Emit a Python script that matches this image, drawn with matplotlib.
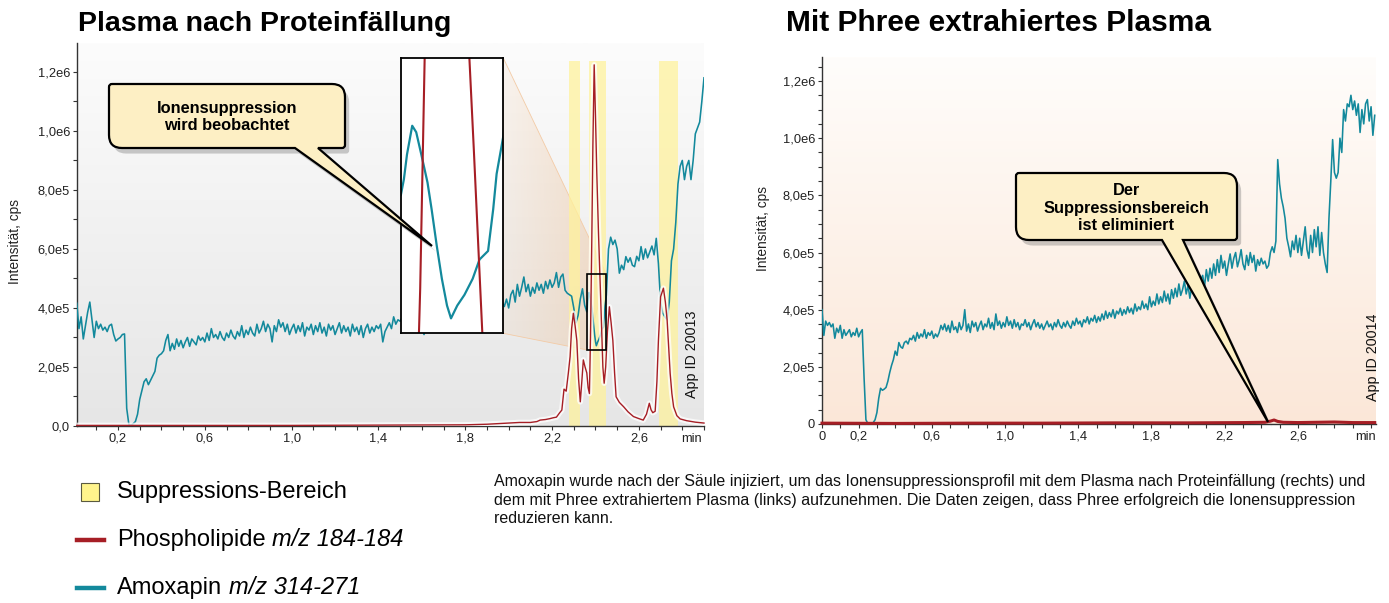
"""
Post-Column-Infusion von Amoxapin: Ionensuppression im Plasma nach
Proteinfällung vs. mit Phree extrahiertem Plasma.
Werte vom Originalbild abgelesen (Intensität in 1000 cps, Zeit in min).
"""
import numpy as np
import matplotlib
matplotlib.use("Agg")
import matplotlib.colors as mcolors
import matplotlib.patheffects as pe
import matplotlib.pyplot as plt
from matplotlib import font_manager
from matplotlib.lines import Line2D
from matplotlib.patches import PathPatch, Polygon, Rectangle
from matplotlib.path import Path
from matplotlib.ticker import FixedLocator, MultipleLocator

plt.rcParams["font.family"] = ["Liberation Sans", "DejaVu Sans"]

# --- Amoxapin m/z 314-271, Plasma nach Proteinfällung -----------------------
# 0,01 ... 2,35 min, Raster 0,01 min
amox_ppt_a = [
    416, 330, 370, 295, 340, 385, 420, 360, 300, 355,
    330, 345, 325, 335, 320, 340, 345, 310, 288, 295,
    300, 310, 312, 60, 5, 2, 8, 15, 40, 90,
    120, 150, 160, 140, 155, 170, 185, 230, 240, 245,
    255, 290, 310, 255, 280, 260, 295, 270, 290, 265,
    285, 300, 270, 295, 285, 275, 305, 290, 300, 285,
    315, 290, 330, 300, 310, 295, 320, 300, 290, 315,
    300, 325, 305, 295, 320, 305, 340, 300, 325, 310,
    335, 315, 305, 345, 315, 330, 355, 320, 345, 330,
    285, 340, 320, 360, 335, 350, 320, 345, 310, 330,
    345, 315, 340, 320, 350, 305, 335, 325, 345, 310,
    340, 320, 350, 315, 335, 305, 345, 325, 340, 310,
    330, 350, 315, 340, 320, 335, 305, 345, 320, 335,
    310, 340, 300, 330, 345, 315, 335, 320, 340, 330,
    345, 285, 320, 335, 350, 330, 370, 345, 360, 355,
    370, 345, 365, 350, 375, 355, 340, 365, 350, 330,
    310, 340, 360, 345, 370, 355, 380, 360, 375, 365,
    385, 360, 380, 370, 390, 365, 385, 375, 395, 370,
    390, 380, 400, 375, 395, 385, 405, 380, 400, 390,
    410, 385, 405, 395, 415, 400, 420, 405, 430, 400,
    445, 460, 420, 480, 440, 470, 505, 455, 480, 440,
    470, 450, 485, 460, 480, 450, 490, 465, 495, 470,
    485, 520, 470, 505, 515, 460, 450, 445, 440, 400,
    350, 375, 430, 465, 410,
]
# Detail im Zoom-Fenster
amox_ppt_zoom_t = [2.360, 2.3627, 2.3654, 2.370, 2.3735, 2.378, 2.3834, 2.387,
                   2.3915, 2.396, 2.4005, 2.404, 2.4095, 2.4158, 2.423, 2.429,
                   2.4365, 2.441, 2.444, 2.450]
amox_ppt_zoom = [387, 402, 425, 452, 446, 425, 399, 374, 340, 309,
                 284, 272, 284, 294, 309, 327, 335, 374, 407, 443]
# 2,46 ... 2,90 min, Raster 0,01 min
amox_ppt_c = [
    600, 640, 615, 630, 600,
    518, 545, 530, 574, 555, 570, 545, 540, 575, 560,
    608, 565, 600, 570, 590, 610, 580, 636, 550, 420,
    382, 370, 360, 420, 560, 600, 690, 820, 880, 900,
    835, 880, 900, 835, 900, 990, 1010, 1030, 1100, 1180,
]

# --- Phospholipide m/z 184-184, Plasma nach Proteinfällung ------------------
pl_ppt_t = [0.01, 0.30, 0.60, 1.00, 1.40, 1.80, 1.90, 1.95, 2.00, 2.05,
            2.10, 2.13, 2.145, 2.17, 2.19, 2.206, 2.22, 2.235, 2.245, 2.255,
            2.265, 2.275, 2.283, 2.29, 2.298, 2.306, 2.314, 2.322, 2.330, 2.337,
            2.344, 2.352, 2.36, 2.366, 2.372, 2.377, 2.383, 2.388, 2.394, 2.400,
            2.406, 2.414, 2.424, 2.434, 2.440, 2.447, 2.455, 2.464, 2.472, 2.480,
            2.488, 2.495, 2.51, 2.53, 2.55, 2.575, 2.60, 2.62, 2.635, 2.648,
            2.656, 2.664, 2.675, 2.683, 2.69, 2.70, 2.713, 2.722, 2.73, 2.737,
            2.744, 2.752, 2.76, 2.775, 2.79, 2.82, 2.86, 2.90]
pl_ppt = [2, 2, 2, 2, 3, 4, 6, 8, 10, 12,
          12, 15, 20, 22, 25, 28, 30, 45, 54, 125,
          118, 180, 235, 330, 382, 340, 290, 160, 82, 150,
          224, 200, 180, 130, 110, 300, 630, 950, 1224, 1050,
          857, 650, 430, 200, 145, 200, 320, 404, 350, 290,
          180, 99, 80, 65, 48, 32, 25, 20, 40, 77,
          55, 45, 50, 150, 290, 438, 467, 420, 360, 270,
          179, 110, 65, 35, 24, 18, 13, 10]

# --- Amoxapin, mit Phree extrahiertes Plasma: 0,00 ... 3,02 min, 0,01 min --
amox_phree = [
    400, 310, 360, 345, 355, 340, 350, 300, 335, 320,
    345, 300, 330, 310, 320, 330, 305, 320, 310, 335,
    305, 320, 330, 160, 15, 2, 0, 2, 5, 15,
    40, 90, 125, 118, 122, 128, 150, 180, 205, 225,
    255, 240, 285, 270, 265, 285, 290, 280, 300, 295,
    310, 290, 320, 300, 315, 305, 330, 300, 320, 310,
    325, 300, 315, 305, 320, 345, 330, 350, 325, 345,
    320, 360, 330, 340, 320, 355, 330, 345, 400, 325,
    350, 320, 360, 340, 355, 325, 345, 360, 330, 350,
    340, 370, 335, 355, 330, 385, 345, 360, 335, 355,
    340, 375, 345, 360, 335, 365, 340, 355, 330, 350,
    345, 365, 340, 355, 330, 350, 365, 340, 355, 335,
    350, 330, 345, 360, 340, 350, 330, 355, 340, 365,
    345, 335, 355, 340, 360, 345, 335, 360, 345, 370,
    350, 360, 340, 365, 355, 375, 350, 370, 360, 380,
    355, 375, 360, 385, 365, 395, 370, 390, 375, 400,
    370, 395, 385, 405, 380, 400, 385, 410, 390, 405,
    385, 420, 395, 410, 400, 430, 405, 420, 400, 445,
    410, 430, 415, 455, 420, 445, 425, 465, 430, 455,
    420, 470, 440, 475, 445, 490, 450, 470, 500, 455,
    485, 440, 480, 495, 460, 510, 470, 505, 520, 480,
    540, 500, 545, 510, 560, 520, 575, 530, 590, 545,
    570, 520, 560, 595, 545, 580, 600, 550, 575, 610,
    560, 540, 590, 555, 600, 565, 590, 535, 575, 555,
    580, 560, 570, 545, 555, 600, 620, 600, 640, 925,
    840, 790, 760, 720, 650, 620, 585, 640, 610, 660,
    600, 650, 590, 640, 690, 610, 580, 660, 600, 680,
    620, 690, 590, 670, 600, 560, 530, 720, 850, 995,
    880, 860, 880, 1000, 950, 1100, 1060, 1120, 1110, 1150,
    1100, 1130, 1080, 1120, 1020, 1100, 1050, 1120, 1135, 1060,
    1110, 1010, 1080,
]

# --- Phospholipide, Phree-Plasma ---------------------------------------------
pl_phree_t = [0.0, 0.4, 0.8, 1.2, 1.6, 2.0, 2.3, 2.42, 2.45, 2.47, 2.49,
              2.52, 2.6, 2.7, 2.8, 2.9, 3.02]
pl_phree = [3, 2, 3, 3, 4, 4, 5, 6, 10, 14, 9, 6, 5, 6, 7, 5, 5]

# Suppressionsbereiche (min) und Höhe (kcps)
band_start = [2.28, 2.37, 2.694]
band_end = [2.33, 2.45, 2.78]
band_top = 1237

# Zoom-Fenster und Position des Insets (min / kcps)
zoom_x = (2.36, 2.45)
zoom_y = (258, 515)
inset_x = (1.503, 1.976)
inset_y = (314, 1246)

left_yticks = [0, 2e5, 4e5, 6e5, 8e5, 1e6, 1.2e6]
left_ylabels = ["0,0", "2,0e5", "4,0e5", "6,0e5", "8,0e5", "1,0e6", "1,2e6"]
right_ylabels = ["0", "2,0e5", "4,0e5", "6,0e5", "8,0e5", "1,0e6", "1,2e6"]
left_xticks = [0.2, 0.6, 1.0, 1.4, 1.8, 2.2, 2.6]
right_xticks = [0.0, 0.2, 0.6, 1.0, 1.4, 1.8, 2.2, 2.6]

TEAL = "#13899c"
RED = "#a61e25"
CREAM = "#fdefc4"

t_a = np.round(np.arange(1, 236) * 0.01, 2)
t_c = np.round(np.arange(246, 291) * 0.01, 2)
t_phree = np.round(np.arange(0, 303) * 0.01, 2)
assert len(amox_ppt_a) == len(t_a) and len(amox_ppt_c) == len(t_c)
assert len(amox_phree) == len(t_phree)
assert len(pl_ppt) == len(pl_ppt_t) and len(pl_phree) == len(pl_phree_t)

amox_t = np.concatenate([t_a, amox_ppt_zoom_t, t_c])
amox_y = np.concatenate([amox_ppt_a, amox_ppt_zoom, amox_ppt_c]) * 1e3
pl_y = np.array(pl_ppt) * 1e3

W, H, DPI = 1389, 603, 100
fig = plt.figure(figsize=(W / DPI, H / DPI), dpi=DPI)


def fx(px):
    return px / W


def fy(py):
    return 1 - py / H


def gradient_bg(ax, top, bottom, xlim, ylim):
    c0 = np.array(mcolors.to_rgb(top))
    c1 = np.array(mcolors.to_rgb(bottom))
    f = np.linspace(0, 1, 200)[:, None]
    img = (c0 + (c1 - c0) * f)[:, None, :]
    ax.imshow(img, extent=[*xlim, *ylim], aspect="auto", origin="upper",
              zorder=0, interpolation="bilinear")


def style_axes(ax, xticks, xlabels, yticks, ylabels, yminor, min_x):
    for s in ("top", "right"):
        ax.spines[s].set_visible(False)
    for s in ("left", "bottom"):
        ax.spines[s].set_color("#333333")
        ax.spines[s].set_linewidth(1.0)
    ax.xaxis.set_major_locator(FixedLocator(xticks))
    ax.set_xticklabels(xlabels)
    ax.xaxis.set_minor_locator(MultipleLocator(0.1))
    ax.yaxis.set_major_locator(FixedLocator(yticks))
    ax.set_yticklabels(ylabels)
    ax.yaxis.set_minor_locator(MultipleLocator(yminor))
    ax.tick_params(which="both", direction="out", length=3, width=0.8,
                   color="#333333", labelsize=9.3, labelcolor="#222222", pad=2)
    ax.annotate("min", xy=(min_x, 0), xycoords=("data", "axes fraction"),
                xytext=(0, -5), textcoords="offset points", ha="center",
                va="top", fontsize=9.3, color="#222222")


def fmt_x(v):
    return "0" if v == 0 else f"{v:.1f}".replace(".", ",")


# ---------------- links: Plasma nach Proteinfällung ----------------
ax1 = fig.add_axes([fx(77), fy(426), fx(704) - fx(77), fy(43) - fy(426)])
xl1, yl1 = (0.011, 2.9), (0, 1.298e6)
gradient_bg(ax1, "#fcfcfc", "#e6e6e6", xl1, yl1)

# orange Verbindungsfläche Inset -> Zoom-Fenster
poly = Polygon([(inset_x[1], inset_y[1] * 1e3), (zoom_x[1], zoom_y[1] * 1e3),
                (zoom_x[0], zoom_y[0] * 1e3), (inset_x[1], inset_y[0] * 1e3)],
               closed=True, fc="none", ec="#f3cba6", lw=0.6, zorder=1.2)
ax1.add_patch(poly)
grad = np.zeros((1, 256, 4))
grad[..., :3] = mcolors.to_rgb("#efbf92")
grad[..., 3] = np.linspace(0.12, 0.45, 256)
im = ax1.imshow(grad, extent=[inset_x[1], zoom_x[1], zoom_y[0] * 1e3,
                              inset_y[1] * 1e3],
                aspect="auto", zorder=1.1, interpolation="bilinear")
im.set_clip_path(poly)

ax1.bar(band_start, band_top * 1e3, width=np.subtract(band_end, band_start),
        align="edge", color="#fff29a", alpha=0.72, lw=0, zorder=2)
ax1.plot(amox_t, amox_y, color=TEAL, lw=1.15, zorder=3)
ax1.plot(pl_ppt_t, pl_y, color="white", lw=4, alpha=0.75, zorder=3.3)
ax1.plot(pl_ppt_t, pl_y, color=RED, lw=1.0, zorder=3.5, clip_on=False)
ax1.add_patch(Rectangle((zoom_x[0], zoom_y[0] * 1e3), zoom_x[1] - zoom_x[0],
                        (zoom_y[1] - zoom_y[0]) * 1e3, fill=False, ec="black",
                        lw=1.2, zorder=4.5))
ax1.text(2.844, 244e3, "App ID 20013", rotation=90, ha="center", va="center",
         fontsize=10.3, color="#111111", zorder=4)

axins = ax1.inset_axes([inset_x[0], inset_y[0] * 1e3, inset_x[1] - inset_x[0],
                        (inset_y[1] - inset_y[0]) * 1e3],
                       transform=ax1.transData, zorder=5)
axins.set_facecolor("white")
axins.plot(amox_t, amox_y, color=TEAL, lw=1.6)
axins.plot(pl_ppt_t, pl_y, color=RED, lw=1.5)
axins.set_xlim(zoom_x)
axins.set_ylim(zoom_y[0] * 1e3, zoom_y[1] * 1e3)
axins.set_xticks([])
axins.set_yticks([])
for s in axins.spines.values():
    s.set_color("black")
    s.set_linewidth(1.3)

ax1.set_xlim(xl1)
ax1.set_ylim(yl1)
style_axes(ax1, left_xticks, [fmt_x(v) for v in left_xticks],
           left_yticks, left_ylabels, 1e5, 2.84)

# ---------------- rechts: mit Phree extrahiertes Plasma ----------------
ax2 = fig.add_axes([fx(822), fy(424), fx(1376) - fx(822), fy(57) - fy(424)])
xl2, yl2 = (0, 3.027), (0, 1.284e6)
gradient_bg(ax2, "#fffdfb", "#fbe7d8", xl2, yl2)
ax2.plot(t_phree, np.array(amox_phree) * 1e3, color=TEAL, lw=1.15, zorder=3)
ax2.plot(pl_phree_t, np.array(pl_phree) * 1e3, color=RED, lw=2.2, zorder=3.5,
         clip_on=False)
ax2.text(3.011, 233e3, "App ID 20014", rotation=90, ha="center", va="center",
         fontsize=10.3, color="#111111", zorder=4)
ax2.set_xlim(xl2)
ax2.set_ylim(yl2)
style_axes(ax2, right_xticks, [fmt_x(v) for v in right_xticks],
           left_yticks, right_ylabels, 5e4, 2.97)

# Achsentitel / Überschriften
for x, y in ((15, 242), (763, 228)):
    fig.text(fx(x), fy(y), "Intensität, cps", rotation=90, ha="center",
             va="center", fontsize=9.9, color="#222222")
fig.text(fx(78), fy(31), "Plasma nach Proteinfällung", fontsize=20.5,
         fontweight="bold", va="baseline", color="black")
fig.text(fx(786), fy(31), "Mit Phree extrahiertes Plasma", fontsize=21.5,
         fontweight="bold", va="baseline", color="black")


# ---------------- Sprechblasen ----------------
def callout_path(box, base, tip, r_big=13, r_small=3):
    left, top, right, bottom = box
    L, T, R, B = left / DPI, (H - top) / DPI, right / DPI, (H - bottom) / DPI
    rb, rs = r_big / DPI, r_small / DPI
    bx0, bx1 = base[0] / DPI, base[1] / DPI
    tx, ty = tip[0] / DPI, (H - tip[1]) / DPI
    verts = [(L + rs, T), (R - rb, T), (R, T), (R, T - rb),
             (R, B + rs), (R, B), (R - rs, B),
             (bx1, B), (tx, ty), (bx0, B),
             (L + rb, B), (L, B), (L, B + rb),
             (L, T - rs), (L, T), (L + rs, T), (L + rs, T)]
    codes = [Path.MOVETO, Path.LINETO, Path.CURVE3, Path.CURVE3,
             Path.LINETO, Path.CURVE3, Path.CURVE3,
             Path.LINETO, Path.LINETO, Path.LINETO,
             Path.LINETO, Path.CURVE3, Path.CURVE3,
             Path.LINETO, Path.CURVE3, Path.CURVE3, Path.CLOSEPOLY]
    return Path(verts, codes)


callouts = [
    ((109, 84, 345, 148), (295, 318), (432, 246), (227, 117),
     "Ionensuppression\nwird beobachtet"),
    ((1016, 173, 1237, 240), (1162, 1183), (1268, 422), (1126, 208),
     "Der\nSuppressionsbereich\nist eliminiert"),
]
for box, base, tip, center, txt in callouts:
    patch = PathPatch(callout_path(box, base, tip), transform=fig.dpi_scale_trans,
                      fc=CREAM, ec="black", lw=1.6, zorder=10)
    patch.set_path_effects([pe.withSimplePatchShadow(offset=(3, -4),
                                                     shadow_rgbFace="0.35",
                                                     alpha=0.3)])
    fig.add_artist(patch)
    fig.text(fx(center[0]), fy(center[1]), txt, ha="center", va="center",
             fontsize=11.8, fontweight="bold", linespacing=1.2, zorder=11)

# ---------------- Legende ----------------
fig.add_artist(Rectangle((fx(81), fy(501)), fx(99) - fx(81), fy(483) - fy(501),
                         transform=fig.transFigure, fc="#fff48c", ec="#5a5a40",
                         lw=0.8))
fig.add_artist(Line2D([fx(77), fx(104)], [fy(540)] * 2, color=RED, lw=3.2,
                      transform=fig.transFigure))
fig.add_artist(Line2D([fx(77), fx(104)], [fy(588)] * 2, color=TEAL, lw=3.2,
                      transform=fig.transFigure))
fig.text(fx(117), fy(492), "Suppressions-Bereich", va="center", fontsize=17)
renderer = fig.canvas.get_renderer()
for y, name, mz in ((540, "Phospholipide", "m/z 184-184"),
                    (588, "Amoxapin", "m/z 314-271")):
    t1 = fig.text(fx(117), fy(y), name, va="center", fontsize=17)
    x1 = t1.get_window_extent(renderer).x1
    fig.text((x1 + 6.5) / W, fy(y), mz, va="center", fontsize=17,
             style="italic")

# ---------------- Bildunterschrift ----------------
available = {f.name for f in font_manager.fontManager.ttflist}
cap_family = ["Liberation Sans Narrow"] if "Liberation Sans Narrow" in available \
    else ["Liberation Sans"]
caption = ("Amoxapin wurde nach der Säule injiziert, um das Ionensuppressionsprofil "
           "mit dem Plasma nach Proteinfällung (rechts) und\n"
           "dem mit Phree extrahiertem Plasma (links) aufzunehmen. Die Daten zeigen, "
           "dass Phree erfolgreich die Ionensuppression\n"
           "reduzieren kann.")
cap = fig.text(fx(494), fy(474), caption, va="top", ha="left", fontsize=10.5,
               family=cap_family, linespacing=1.3, color="#111111")
w = cap.get_window_extent(renderer).width
cap.set_fontsize(10.5 * 878 / w)

fig.savefig("out.png", dpi=DPI)
